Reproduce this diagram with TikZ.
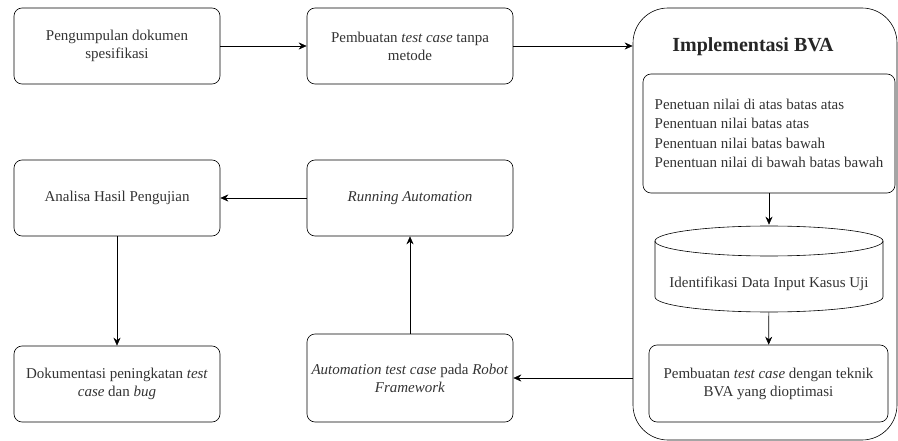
\documentclass[tikz,border=0pt]{standalone}
\usepackage{fontspec}
\setmainfont{Liberation Serif}
\usetikzlibrary{arrows.meta}

\begin{document}
\begin{tikzpicture}[x=1pt,y=-1pt,
  box/.style={draw,rounded corners=8pt,minimum width=206pt,minimum height=76pt,align=center,text=black!80},
  every node/.style={font=\fontsize{15}{18}\selectfont},
  >={Stealth[length=8pt,width=7pt]}, semithick]
\useasboundingbox (0,0) rectangle (898,441);
\node [box] (spek) at (117,46) {Pengumpulan dokumen\\spesifikasi};
\node [box] (tanpa) at (410,46) {Pembuatan \textit{test case} tanpa\\metode};
\node [box] (analisa) at (117,198) {Analisa Hasil Pengujian};
\node [box] (running) at (410,198) {\textit{Running Automation}};
\node [box] (dok) at (117,384) {Dokumentasi peningkatan \textit{test}\\\textit{case} dan \textit{bug}};
\node [box,minimum height=88pt,inner xsep=0pt] (robot) at (410,378) {\textit{Automation test case} pada \textit{Robot}\\\textit{Framework}};
\node [draw,rounded corners=35pt,minimum width=264pt,minimum height=432pt] (bva) at (765,224) {};
\node [font=\bfseries\fontsize{20}{24}\selectfont,text=black!85] (judul) at (753,47) {Implementasi BVA};
\node [box,minimum width=252pt,minimum height=119pt,align=left,
  font=\fontsize{15}{19.5}\selectfont] (batas) at (769,133.5)
  {Penetuan nilai di atas batas atas\\Penentuan nilai batas atas\\Penentuan nilai batas bawah\\Penentuan nilai di bawah batas bawah};
\node [minimum width=228pt,minimum height=87pt,text=black!80] (data) at (769,268.5) {};
\draw (769,241) ellipse [x radius=114pt,y radius=15pt];
\draw (655,241) -- (655,297) arc [start angle=180,end angle=360,x radius=114pt,y radius=15pt] -- (883,241);
\node [text=black!80] (datatxt) at (769,284) {Identifikasi Data Input Kasus Uji};
\node [box,minimum width=239pt,minimum height=77pt] (optimasi) at (768.5,383.5) {Pembuatan \textit{test case} dengan teknik\\BVA yang dioptimasi};
\draw [->] (spek) -- (tanpa);
\draw [->] (tanpa.east) -- (tanpa.east -| bva.west);
\draw [->] (batas) -- (data);
\draw [->] (data) -- (optimasi);
\draw [->] (robot.east -| bva.west) -- (robot.east);
\draw [->] (robot) -- (running);
\draw [->] (running) -- (analisa);
\draw [->] (analisa) -- (dok);
\end{tikzpicture}
\end{document}
